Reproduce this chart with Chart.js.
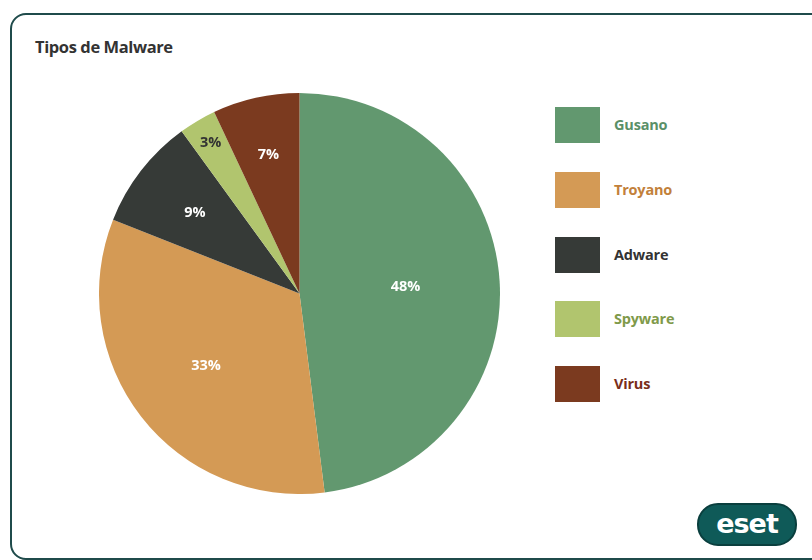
<!DOCTYPE html>
<html>
<head>
<meta charset="utf-8">
<script src="https://cdn.jsdelivr.net/npm/chart.js@4"></script>
<style>
  body { margin: 0; background: #ffffff; width: 812px; height: 560px; overflow: hidden; font-family: "Open Sans", "Noto Sans", sans-serif; }
  #frame { position: absolute; left: 10px; top: 13px; width: 830px; height: 543px; border: 2px solid #1f4b4b; border-radius: 16px; background: #fff; }
  #title { position: absolute; left: 35px; top: 35px; font-size: 16.5px; font-weight: bold; color: #333; letter-spacing: -0.4px; }
  #chartBox { position: absolute; left: 99px; top: 93px; width: 401px; height: 401px; }
  #legend { position: absolute; left: 555px; top: 107px; }
  .item { position: relative; height: 36px; margin-bottom: 28.75px; }
  .box { position: absolute; left: 0; top: 0; width: 45px; height: 36px; }
  .lbl { position: absolute; left: 59px; top: 8px; font-size: 14.5px; font-weight: bold; white-space: nowrap; letter-spacing: -0.2px; }
  #logo { position: absolute; left: 697px; top: 503px; width: 100px; height: 43px; border-radius: 21px; background: #0f5a58; border: 2px solid #0a3f3e; box-sizing: border-box; }
  #logo span { position: absolute; left: 0; right: 0; top: 3px; text-align: center; color: #fff; font: bold 27px "DejaVu Sans", sans-serif; letter-spacing: -1px; }
</style>
</head>
<body>
<div id="frame"></div>
<div id="title">Tipos de Malware</div>
<div id="chartBox"><canvas id="malwareChart"></canvas></div>
<div id="legend"></div>
<div id="logo"><span>eset</span></div>
<script>
// Data
const categories = ['Gusano', 'Troyano', 'Adware', 'Spyware', 'Virus'];
const percentages = [48, 33, 9, 3, 7];
const sliceColors = ['#62986f', '#d49a55', '#363a37', '#b1c56e', '#7b3a1f'];
const legendTextColors = ['#5a9068', '#c2803a', '#333333', '#7f9a4a', '#7a2e1a'];
const labelColors = ['#ffffff', '#ffffff', '#ffffff', '#333333', '#ffffff'];
// how far out each value label sits (fraction of radius)
const labelRadius = [0.53, 0.59, 0.66, 0.87, 0.71];

// Draw the percent labels inside each slice
const sliceLabels = {
  id: 'sliceLabels',
  afterDatasetsDraw(chart) {
    const ctx = chart.ctx;
    const meta = chart.getDatasetMeta(0);
    ctx.save();
    ctx.font = 'bold 14.5px "Open Sans", sans-serif';
    ctx.textAlign = 'center';
    ctx.textBaseline = 'middle';
    meta.data.forEach((arc, i) => {
      const mid = (arc.startAngle + arc.endAngle) / 2;
      const r = arc.outerRadius * labelRadius[i];
      const x = arc.x + Math.cos(mid) * r;
      const y = arc.y + Math.sin(mid) * r;
      ctx.fillStyle = labelColors[i];
      ctx.fillText(percentages[i] + '%', x, y);
    });
    ctx.restore();
  }
};

new Chart(document.getElementById('malwareChart'), {
  type: 'pie',
  data: {
    labels: categories,
    datasets: [{
      data: percentages,
      backgroundColor: sliceColors,
      borderWidth: 0
    }]
  },
  options: {
    responsive: true,
    maintainAspectRatio: false,
    animation: false,
    layout: { padding: 0 },
    plugins: {
      legend: { display: false },
      tooltip: { enabled: false }
    }
  },
  plugins: [sliceLabels]
});

// Build the legend on the right
const legend = document.getElementById('legend');
categories.forEach((name, i) => {
  const item = document.createElement('div');
  item.className = 'item';
  item.innerHTML = '<div class="box" style="background:' + sliceColors[i] + '"></div>' +
    '<div class="lbl" style="color:' + legendTextColors[i] + '">' + name + '</div>';
  legend.appendChild(item);
});
</script>
</body>
</html>
